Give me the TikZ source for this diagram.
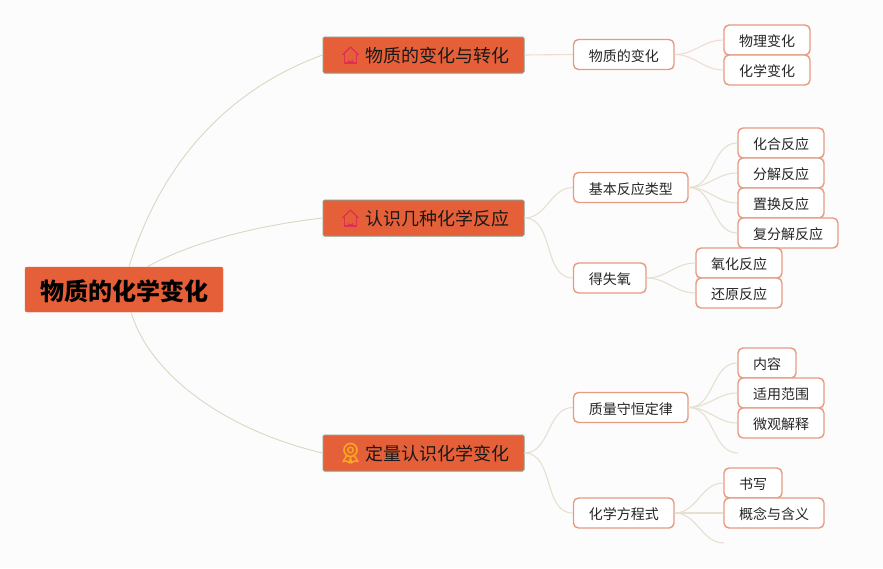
\documentclass[tikz,border=0pt]{standalone}
\usepackage{fontspec}
\setmainfont{Noto Sans CJK SC}
\definecolor{mapbg}{HTML}{FCFCFC}
\definecolor{maporange}{HTML}{E56038}
\definecolor{mapedge}{HTML}{E59A82}
\definecolor{mapgrey}{HTML}{8F9A86}
\definecolor{maptan}{HTML}{DDD6C2}
\definecolor{maplink}{HTML}{E6E0D0}
\definecolor{mappink}{HTML}{F2DCD0}
\definecolor{iconred}{HTML}{DE2F52}
\definecolor{icongold}{HTML}{F7A822}

\begin{document}
\begin{tikzpicture}[
  x=1pt, y=-1pt,
  root/.style={draw=maporange, fill=maporange, rounded corners=2pt, font=\fontsize{24}{28}\selectfont\bfseries,
               text=black, minimum width=198pt, minimum height=45pt, inner sep=0pt, text height=25pt, text depth=3pt},
  topic/.style={draw=mapgrey, line width=1pt, fill=maporange, rounded corners=1.5pt, font=\fontsize{18}{22}\selectfont,
                text=black!90, minimum width=201pt, minimum height=36pt, inner sep=0pt, text height=18pt, text depth=2.4pt},
  leaf/.style={draw=mapedge, line width=1.4pt, fill=white, rounded corners=5pt, font=\fontsize{14}{17}\selectfont,
               text=black!85, minimum height=30pt, inner sep=0pt, text height=15pt, text depth=2pt},
  rootlink/.style={draw=maptan, line width=0.9pt},
  sublink/.style={draw=maplink, line width=1.1pt},
  house/.pic={
    \draw[iconred, line width=1.3pt, line join=round] (-6,-1) -- (-6,8) -- (6,8) -- (6,-1);
    \draw[iconred, line width=1.3pt, line join=round] (-8,0) -- (0,-8) -- (8,0);
    \fill[iconred] (-2.5,8) -- (-2.5,4) arc[start angle=180, end angle=0, radius=2.5] -- (2.5,8) -- cycle;
  },
  medal/.pic={
    \draw[icongold, line width=1.6pt] (0,-3) circle[radius=6.5];
    \draw[icongold, line width=1.3pt] (0,-3) circle[radius=2.8];
    \draw[icongold, line width=1.5pt, line join=round] (-4,3) -- (-7.5,8.5) -- (-3.5,8) -- (-1,10) -- (0,4.5) -- (1,10) -- (3.5,8) -- (7.5,8.5) -- (4,3);
  },
]
  \fill[mapbg] (0,0) rectangle (883,568);

  \node[root] (chem) at (124,289.5) {物质的化学变化};
  \node[topic] (change)  at (423.5,55)  {\hspace*{28pt}物质的变化与转化};
  \node[topic] (react)   at (423.5,218) {\hspace*{28pt}认识几种化学反应};
  \node[topic] (quant)   at (423.5,453) {\hspace*{28pt}定量认识化学变化};
  \pic at (350.5,55)  {house};
  \pic at (350.5,218) {house};
  \pic at (350.5,453) {medal};

  \node[leaf, minimum width=100.5pt] (matter) at (623.75,54.5)  {物质的变化};
  \node[leaf, minimum width=86pt]    (phys)   at (767,40)       {物理变化};
  \node[leaf, minimum width=86pt]    (chemc)  at (767,70)       {化学变化};

  \node[leaf, minimum width=114.5pt] (basic)  at (630.75,187.5) {基本反应类型};
  \node[leaf, minimum width=86pt]    (comb)   at (781,143)      {化合反应};
  \node[leaf, minimum width=86pt]    (decomp) at (781,173)      {分解反应};
  \node[leaf, minimum width=86pt]    (displ)  at (781,203)      {置换反应};
  \node[leaf, minimum width=100pt]   (double) at (788,233)      {复分解反应};

  \node[leaf, minimum width=72.5pt]  (oxy)    at (609.75,278)   {得失氧};
  \node[leaf, minimum width=86pt]    (oxid)   at (739,263)      {氧化反应};
  \node[leaf, minimum width=86pt]    (redu)   at (739,293)      {还原反应};

  \node[leaf, minimum width=114.5pt] (mass)   at (630.75,407.5) {质量守恒定律};
  \node[leaf, minimum width=58pt]    (cont)   at (767,363)      {内容};
  \node[leaf, minimum width=86pt]    (scope)  at (781,393)      {适用范围};
  \node[leaf, minimum width=86pt]    (micro)  at (781,423)      {微观解释};
  \coordinate (massend) at (738,453);

  \node[leaf, minimum width=100.5pt] (equ)    at (623.75,513)   {化学方程式};
  \node[leaf, minimum width=58pt]    (write)  at (753,483)      {书写};
  \node[leaf, minimum width=100pt]   (mean)   at (774,513)      {概念与含义};
  \coordinate (equend) at (724,543);

  \draw[rootlink] ([xshift=5pt]chem.north) .. controls (165,150) and (240,85) .. (change.west);
  \draw[rootlink] ([xshift=23pt]chem.north) .. controls (200,238) and (270,224) .. (react.west);
  \draw[rootlink] ([xshift=7pt]chem.south) .. controls (150,375) and (225,430) .. (quant.west);

  \draw[sublink, draw=mappink] (change.east) -- (matter.west);
  \draw[sublink, draw=mappink] (matter.east) to[out=0, in=180] (phys.west);
  \draw[sublink, draw=mappink] (matter.east) to[out=0, in=180] (chemc.west);

  \draw[sublink] (react.east) to[out=0, in=180] (basic.west);
  \draw[sublink] (react.east) to[out=0, in=180] (oxy.west);
  \draw[sublink] (basic.east) to[out=0, in=180] (comb.west);
  \draw[sublink] (basic.east) to[out=0, in=180] (decomp.west);
  \draw[sublink] (basic.east) to[out=0, in=180] (displ.west);
  \draw[sublink] (basic.east) to[out=0, in=180] (double.west);
  \draw[sublink] (oxy.east) to[out=0, in=180] (oxid.west);
  \draw[sublink] (oxy.east) to[out=0, in=180] (redu.west);

  \draw[sublink] (quant.east) to[out=0, in=180] (mass.west);
  \draw[sublink] (quant.east) to[out=0, in=180] (equ.west);
  \draw[sublink] (mass.east) to[out=0, in=180] (cont.west);
  \draw[sublink] (mass.east) to[out=0, in=180] (scope.west);
  \draw[sublink] (mass.east) to[out=0, in=180] (micro.west);
  \draw[sublink] (mass.east) to[out=0, in=180] (massend);
  \draw[sublink] (equ.east) to[out=0, in=180] (write.west);
  \draw[sublink] (equ.east) -- (mean.west);
  \draw[sublink] (equ.east) to[out=0, in=180] (equend);
\end{tikzpicture}
\end{document}
